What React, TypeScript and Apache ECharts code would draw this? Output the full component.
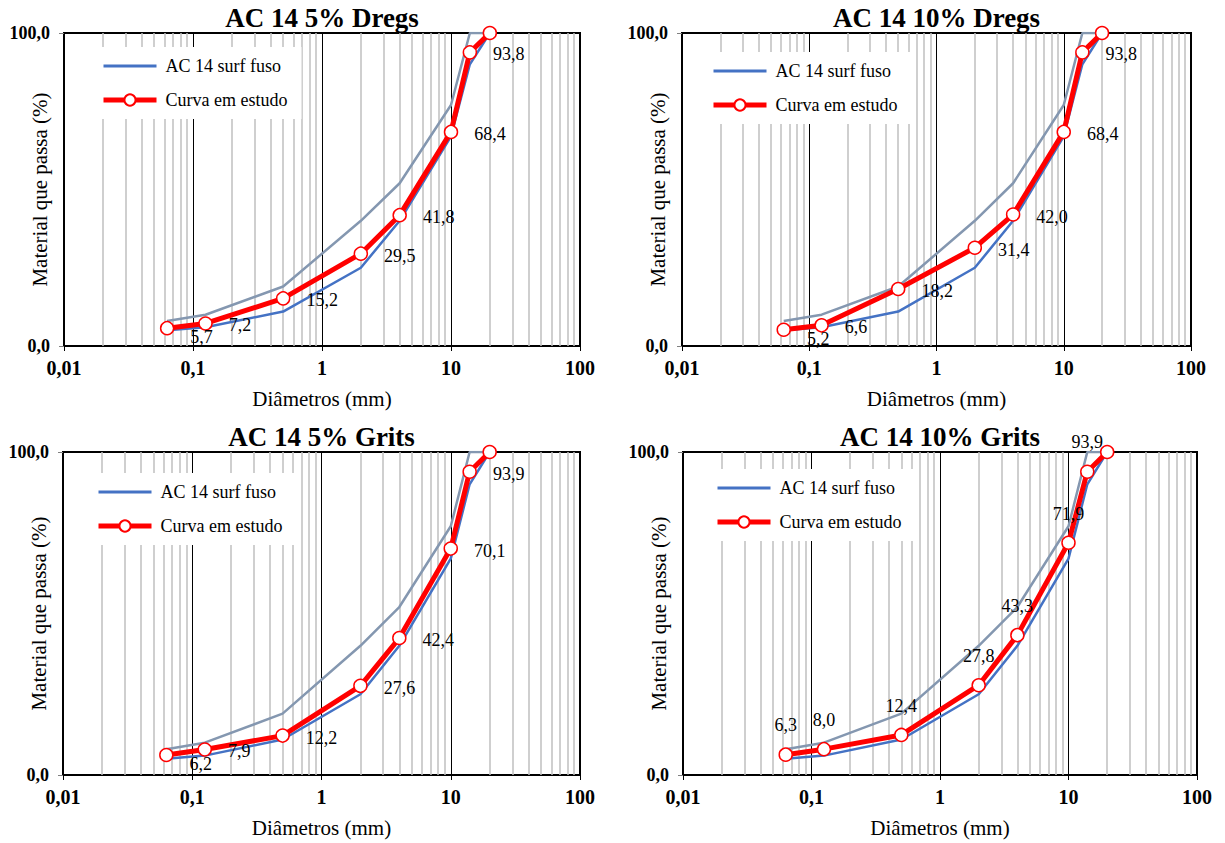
import React, { useEffect, useRef } from 'react';
import * as echarts from 'echarts';

// Sieve sizes (mm)
const SIEVES = [0.063, 0.125, 0.5, 2, 4, 10, 14, 20];
// AC 14 surf grading envelope
const LOWER = [5, 6, 11, 25, 40, 67, 90, 100];
const UPPER = [8, 10, 19, 40, 52, 77, 100, 100];
// Studied curves
const DREGS_5 = [5.7, 7.2, 15.2, 29.5, 41.8, 68.4, 93.8, 100];
const DREGS_10 = [5.2, 6.6, 18.2, 31.4, 42.0, 68.4, 93.8, 100];
const GRITS_5 = [6.2, 7.9, 12.2, 27.6, 42.4, 70.1, 93.9, 100];
const GRITS_10 = [6.3, 8.0, 12.4, 27.8, 43.3, 71.9, 93.9, 100];

const TITLES = ['AC 14 5% Dregs', 'AC 14 10% Dregs', 'AC 14 5% Grits', 'AC 14 10% Grits'];
const CURVES = [DREGS_5, DREGS_10, GRITS_5, GRITS_10];
const X_TICK_LABELS: Record<string, string> = { '0.01': '0,01', '0.1': '0,1', '1': '1', '10': '10', '100': '100' };
const DECADES = [0.01, 0.1, 1, 10];
const MINOR_STEPS = [2, 3, 4, 5, 6, 7, 8, 9];

const SERIF = 'Liberation Serif';

const LAYOUT = [
  { grid: { left: 64, top: 33, width: 516, height: 313 }, legend: { left: 95, top: 47 }, labelPos: 'right' },
  { grid: { left: 682, top: 33, width: 509, height: 313 }, legend: { left: 705, top: 52 }, labelPos: 'right' },
  { grid: { left: 63, top: 452, width: 517, height: 323 }, legend: { left: 90, top: 473 }, labelPos: 'right' },
  { grid: { left: 683, top: 452, width: 514, height: 323 }, legend: { left: 709, top: 469 }, labelPos: 'top' },
];

function fmtComma(v: number) {
  return v.toFixed(1).replace('.', ',');
}

function buildOption() {
  const minorLines: number[] = [];
  DECADES.forEach((d) => MINOR_STEPS.forEach((s) => minorLines.push(+(d * s).toPrecision(3))));

  const grid: any[] = [];
  const xAxis: any[] = [];
  const yAxis: any[] = [];
  const series: any[] = [];
  const title: any[] = [];
  const legend: any[] = [];

  LAYOUT.forEach((L, i) => {
    const g = L.grid;
    grid.push({
      ...g,
      show: true,
      borderColor: '#000',
      borderWidth: 2,
      backgroundColor: 'transparent',
      containLabel: false,
      outerBoundsMode: 'none',
    });
    title.push({
      text: TITLES[i],
      left: g.left + g.width / 2 - 5,
      top: g.top - 34,
      textAlign: 'center',
      textStyle: { fontFamily: SERIF, fontWeight: 'bold', fontSize: 27, color: '#000' },
    });
    legend.push({
      orient: 'vertical',
      left: L.legend.left,
      top: L.legend.top,
      padding: [10, 14, 10, 6],
      backgroundColor: '#fff',
      itemWidth: 53,
      itemHeight: 14,
      itemGap: 16,
      data: [
        { name: 'AC 14 surf fuso', itemStyle: { opacity: 0 }, lineStyle: { width: 3 } },
        { name: 'Curva em estudo', lineStyle: { width: 5 } },
      ],
      selectedMode: false,
      textStyle: { fontFamily: SERIF, fontSize: 18, color: '#000', padding: [0, 0, 0, 4] },
    });
    xAxis.push({
      type: 'log',
      logBase: 10,
      gridIndex: i,
      min: 0.01,
      max: 100,
      name: 'Diâmetros (mm)',
      nameLocation: 'middle',
      nameGap: 42,
      nameMoveOverlap: false,
      nameTextStyle: { fontFamily: SERIF, fontSize: 21, color: '#000' },
      axisLine: { show: true, lineStyle: { color: '#000', width: 2 } },
      axisTick: { show: true, length: 5, lineStyle: { color: '#000', width: 1 } },
      axisLabel: {
        margin: 12,
        fontFamily: SERIF,
        fontWeight: 'bold',
        fontSize: 20,
        color: '#000',
        formatter: (v: number) => X_TICK_LABELS[String(+v.toPrecision(3))] ?? String(v),
      },
      splitLine: { show: true, lineStyle: { color: '#000', width: 1 } },
    });
    yAxis.push({
      type: 'value',
      gridIndex: i,
      min: 0,
      max: 100,
      interval: 100,
      name: 'Material que passa (%)',
      nameLocation: 'middle',
      nameGap: 14,
      nameRotate: 90,
      nameMoveOverlap: false,
      nameTextStyle: { fontFamily: SERIF, fontSize: 21, color: '#000' },
      axisLine: { show: true, lineStyle: { color: '#000', width: 2 } },
      axisTick: { show: true, length: 5, lineStyle: { color: '#808080', width: 1 } },
      axisLabel: { margin: 14, fontFamily: SERIF, fontWeight: 'bold', fontSize: 18, color: '#000', formatter: fmtComma },
      splitLine: { show: false },
    });

    series.push({
      name: 'Limite superior',
      type: 'line',
      xAxisIndex: i,
      yAxisIndex: i,
      data: SIEVES.map((s, k) => [s, UPPER[k]]),
      symbol: 'none',
      lineStyle: { color: '#8497B0', width: 2.5 },
      itemStyle: { color: '#8497B0' },
      silent: true,
      z: 3,
      markLine: {
        silent: true,
        symbol: ['none', 'none'],
        label: { show: false },
        emphasis: { disabled: true },
        lineStyle: { color: '#BFBFBF', width: 1.5, type: 'solid' },
        data: minorLines.map((v) => ({ xAxis: v })),
        z: 1,
      },
    });
    series.push({
      name: 'AC 14 surf fuso',
      type: 'line',
      xAxisIndex: i,
      yAxisIndex: i,
      data: SIEVES.map((s, k) => [s, LOWER[k]]),
      symbol: 'none',
      lineStyle: { color: '#4472C4', width: 2.5 },
      itemStyle: { color: '#4472C4' },
      silent: true,
      z: 3,
    });
    const curve = CURVES[i];
    series.push({
      name: 'Curva em estudo',
      type: 'line',
      xAxisIndex: i,
      yAxisIndex: i,
      symbol: 'circle',
      symbolSize: 13,
      lineStyle: { color: '#FF0000', width: 5 },
      itemStyle: { color: '#FFFFFF', borderColor: '#FF0000', borderWidth: 1.5 },
      silent: true,
      z: 5,
      label: {
        show: true,
        position: L.labelPos,
        distance: L.labelPos === 'top' ? 13 : 16,
        offset: L.labelPos === 'top' ? [0, 0] : [0, 2],
        fontFamily: SERIF,
        fontSize: 18,
        color: '#000',
        formatter: (p: any) => fmtComma(p.value[1]),
      },
      data: SIEVES.map((s, k) => {
        const item: any = { value: [s, curve[k]] };
        if (k === SIEVES.length - 1) item.label = { show: false };
        if (k === 0 && L.labelPos === 'right') item.label = { offset: [0, 9] };
        return item;
      }),
    });
  });

  return {
    animation: false,
    backgroundColor: '#fff',
    textStyle: { fontFamily: SERIF },
    title,
    legend,
    grid,
    xAxis,
    yAxis,
    series,
  };
}

export default function App() {
  const ref = useRef<HTMLDivElement>(null);
  useEffect(() => {
    const chart = echarts.init(ref.current!, null, { renderer: 'svg' });
    chart.setOption(buildOption() as any);
    return () => chart.dispose();
  }, []);
  return (
    <div
      ref={ref}
      style={{ position: 'absolute', left: 0, top: 0, width: 1225, height: 843, background: '#fff' }}
    />
  );
}
